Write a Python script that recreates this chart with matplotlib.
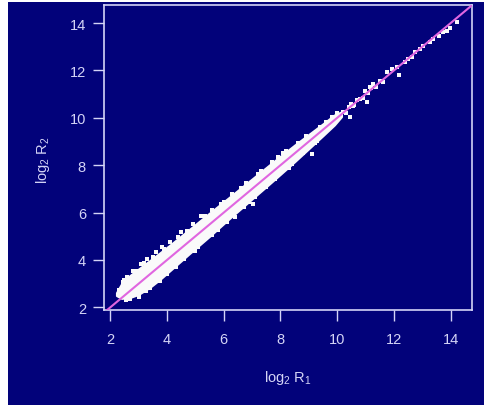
import matplotlib
matplotlib.use("Agg")
import matplotlib.pyplot as plt
from matplotlib.patches import Rectangle
import numpy as np

plt.rcParams['font.family'] = ['Liberation Sans', 'DejaVu Sans']
plt.rcParams['mathtext.fontset'] = 'custom'
plt.rcParams['mathtext.rm'] = 'Liberation Sans'
plt.rcParams['mathtext.it'] = 'Liberation Sans:italic'

# ---- data ----
# dense cloud envelope: log2 R1 positions and upper / lower log2 R2 bounds
band_x = [2.22, 2.4, 2.7, 3.0, 3.4, 3.75, 4.2, 4.8, 5.5, 6.2, 7.0, 7.6, 8.0, 8.5, 9.0, 9.5, 9.9, 10.15]
band_upper = [2.62, 3.00, 3.35, 3.62, 3.98, 4.30, 4.72, 5.30, 5.98, 6.65, 7.42, 8.00, 8.38, 8.85, 9.30, 9.75, 10.12, 10.25]
band_lower = [2.50, 2.38, 2.42, 2.55, 2.85, 3.18, 3.65, 4.28, 5.00, 5.75, 6.58, 7.20, 7.62, 8.15, 8.70, 9.25, 9.70, 10.05]

# scattered points at the rim of the cloud
rim_x = [2.3, 2.5, 2.6, 2.8, 3.1, 3.3, 3.6, 3.75, 3.81, 4.1, 4.5, 4.9, 5.2, 5.57, 5.9, 6.4, 6.6, 7.04, 7.3, 7.9,
         8.2, 8.6, 9.1, 9.28, 9.6, 2.7, 3.0, 3.4, 4.3, 5.0, 5.8, 6.9, 7.5, 8.4, 9.2,
         2.45, 2.9, 3.2, 3.5, 3.9, 4.4, 4.7, 5.35, 6.0, 6.3, 6.8, 7.2, 7.7, 8.1, 8.9, 9.4, 9.8, 10.0,
         2.55, 3.25, 3.7, 4.0, 4.6, 5.1, 5.6, 6.1, 6.7, 7.1, 7.8, 8.3, 8.8, 9.5]
rim_y = [2.75, 3.15, 3.3, 3.55, 3.85, 4.05, 4.35, 3.12, 4.53, 4.75, 5.2, 5.5, 5.85, 6.10, 6.35, 5.80, 7.05, 6.36, 7.75, 8.35,
         8.60, 8.95, 8.47, 9.03, 9.82, 2.35, 2.45, 2.80, 3.70, 4.40, 5.25, 6.45, 7.10, 8.05, 8.95,
         3.08, 3.55, 3.88, 4.12, 4.48, 4.98, 5.22, 5.85, 6.45, 6.78, 7.25, 7.62, 8.12, 8.50, 9.22, 9.62, 10.02, 10.22,
         2.32, 2.70, 3.10, 3.40, 4.05, 4.55, 5.05, 5.62, 6.25, 6.65, 7.40, 7.90, 8.50, 9.30]

# sparse points above the cloud
sparse_x = [10.2, 10.3, 10.4, 10.45, 10.5, 10.57, 10.6, 10.7, 10.8, 10.9, 10.98, 11.04, 11.1, 11.16, 11.2, 11.27,
            11.35, 11.5, 11.63, 11.75, 11.92, 12.1, 12.16, 12.39, 12.51, 12.63, 12.74, 12.92, 13.04, 13.27, 13.39,
            13.57, 13.74, 13.86, 13.98, 14.21]
sparse_y = [10.25, 10.2, 10.45, 10.02, 10.6, 10.51, 10.55, 10.75, 10.79, 10.85, 11.14, 10.65, 11.05, 11.28, 11.25, 11.42,
            11.3, 11.55, 11.49, 11.92, 12.05, 12.15, 11.80, 12.34, 12.48, 12.55, 12.76, 12.90, 13.04, 13.18, 13.32,
            13.46, 13.60, 13.67, 13.81, 14.03]

x_ticks = [2, 4, 6, 8, 10, 12, 14]
y_ticks = [2, 4, 6, 8, 10, 12, 14]
x_label = r'$\mathrm{log_2\ R_1}$'
y_label = r'$\mathrm{log_2\ R_2}$'

navy = '#02027a'
light = '#d4d4f6'
pink = '#e066e0'
cloud = '#fafafa'

W, H = 485, 406
fig = plt.figure(figsize=(W / 100, H / 100), dpi=100, facecolor='white')
fig.patches.append(Rectangle((8 / W, 0), 1 - 8 / W, 1 - 3 / H, transform=fig.transFigure,
                             facecolor=navy, edgecolor='none', zorder=-10))

ax = fig.add_axes([104 / W, 1 - 311 / H, (472 - 104) / W, (311 - 6) / H])
ax.set_facecolor(navy)
ax.set_xlim(1.78, 14.75)
ax.set_ylim(1.89, 14.76)

ax.fill_between(band_x, band_lower, band_upper, color=cloud, linewidth=1.5, edgecolor=cloud, zorder=2)
ax.scatter(rim_x, rim_y, s=5, color=cloud, linewidths=0, zorder=2, marker='s')
ax.scatter(sparse_x, sparse_y, s=6, color=cloud, linewidths=0, zorder=2, marker='s')

ax.axline((2, 2), slope=1, color=pink, linewidth=1.5, zorder=3)

for s in ax.spines.values():
    s.set_color(light)
    s.set_linewidth(1.2)

ax.set_xticks(x_ticks)
ax.set_yticks(y_ticks)
ax.tick_params(axis='both', direction='out', length=8, width=1, color=light, labelcolor=light, labelsize=10.5)
ax.tick_params(axis='x', pad=8)
ax.tick_params(axis='y', pad=5)

fig.text(288 / W, 1 - 378 / H, x_label, color=light, fontsize=10.5, ha='center', va='center')
fig.text(43 / W, 1 - 160 / H, y_label, color=light, fontsize=10.5, ha='center', va='center', rotation=90)

fig.savefig('out.png', dpi=100, facecolor='white')
